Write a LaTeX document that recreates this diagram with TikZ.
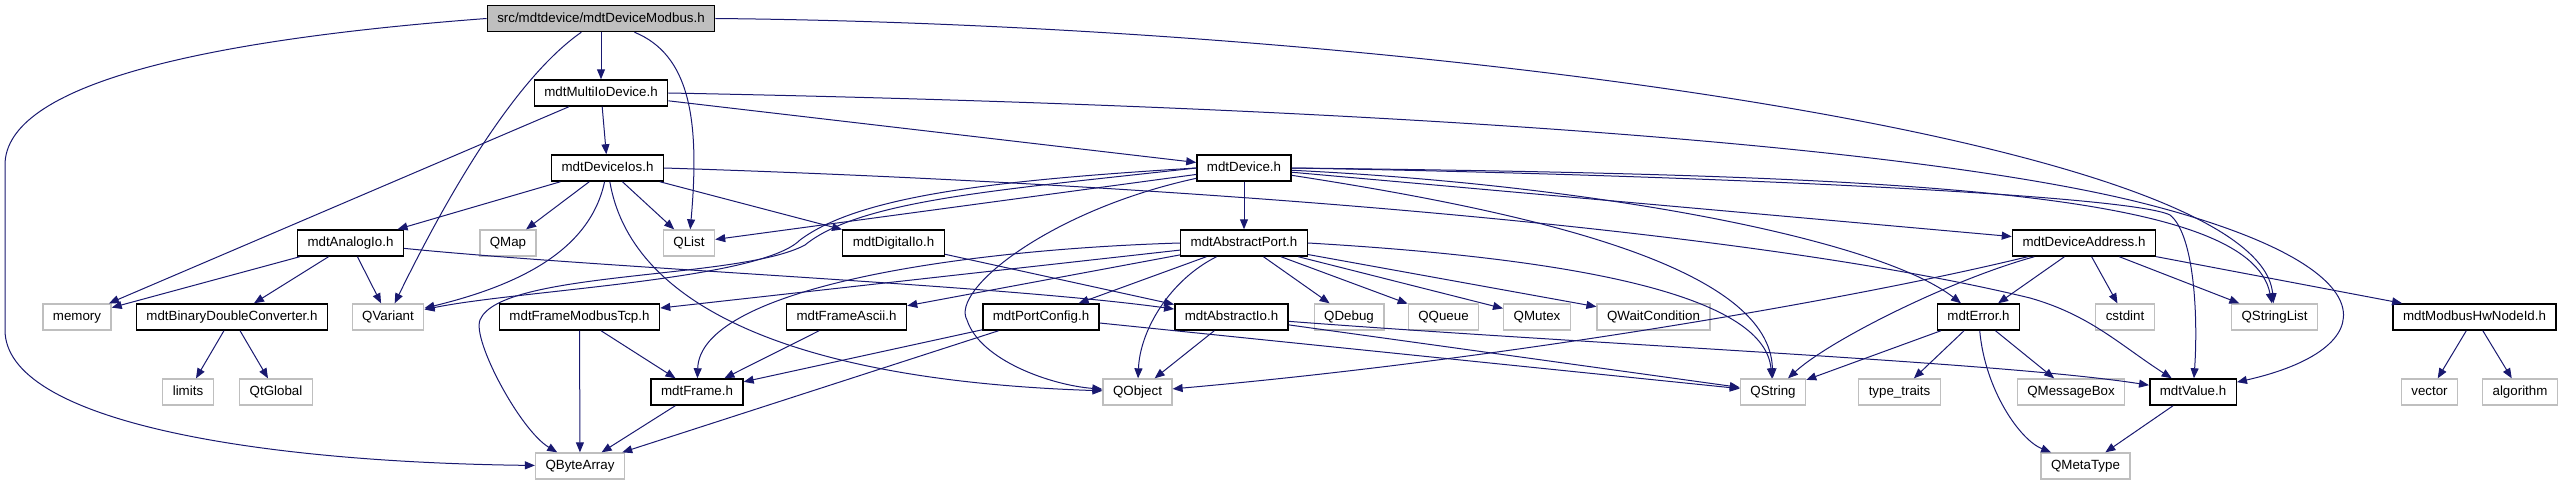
\documentclass[tikz,border=0pt]{standalone}
\usepackage{fontspec}
\setmainfont{Liberation Sans}
\usepackage{tikz}
\usetikzlibrary{arrows.meta}
\usepackage{xcolor}
\definecolor{edgeblue}{HTML}{191970}
\definecolor{extgray}{HTML}{BFBFBF}
\definecolor{rootfill}{HTML}{BFBFBF}

\begin{document}
\begin{tikzpicture}[
  x=0.75pt, y=-0.75pt,
  every node/.style={font=\fontsize{10}{12}\selectfont, text height=7.5pt, text depth=2.2pt},
  docbox/.style={draw=black, fill=white, line width=1.1pt, inner xsep=7.5pt,
                 inner ysep=0pt, minimum height=19.5pt},
  extbox/.style={draw=extgray, fill=white, line width=1pt, inner xsep=7.5pt,
                 inner ysep=0pt, minimum height=19.5pt},
  rootbox/.style={docbox, fill=rootfill},
  incl/.style={draw=edgeblue, line width=0.75pt, -{Triangle[length=7.5pt,width=6pt]}},
]
  \useasboundingbox (0,0) rectangle (2563,485);

  \node[rootbox] (root) at (601,18.5) {src/mdtdevice/mdtDeviceModbus.h};
  \node[docbox] (multi) at (601,93) {mdtMultiIoDevice.h};
  \node[docbox] (ios) at (607.5,168) {mdtDeviceIos.h};
  \node[docbox] (dev) at (1244,168) {mdtDevice.h};
  \node[docbox] (analog) at (350.5,243) {mdtAnalogIo.h};
  \node[extbox] (qmap) at (508,243) {QMap};
  \node[extbox] (qlist) at (689,243) {QList};
  \node[docbox] (digital) at (893.5,243) {mdtDigitalIo.h};
  \node[docbox] (aport) at (1244,243) {mdtAbstractPort.h};
  \node[docbox] (daddr) at (2084,243) {mdtDeviceAddress.h};
  \node[extbox] (memory) at (77,317) {memory};
  \node[docbox] (bdc) at (232,317) {mdtBinaryDoubleConverter.h};
  \node[extbox] (qvariant) at (388,317) {QVariant};
  \node[docbox] (ftcp) at (579.5,317) {mdtFrameModbusTcp.h};
  \node[docbox] (fascii) at (846.5,317) {mdtFrameAscii.h};
  \node[docbox] (pconfig) at (1041,317) {mdtPortConfig.h};
  \node[docbox] (aio) at (1231.5,317) {mdtAbstractIo.h};
  \node[extbox] (qdebug) at (1349,317) {QDebug};
  \node[extbox] (qqueue) at (1443.5,317) {QQueue};
  \node[extbox] (qmutex) at (1537,317) {QMutex};
  \node[extbox] (qwait) at (1653.5,317) {QWaitCondition};
  \node[docbox] (merror) at (1978.5,317) {mdtError.h};
  \node[extbox] (cstdint) at (2125,317) {cstdint};
  \node[extbox] (qstrlist) at (2274.5,317) {QStringList};
  \node[docbox] (hwnode) at (2474.5,317) {mdtModbusHwNodeId.h};
  \node[extbox] (limits) at (188,392) {limits};
  \node[extbox] (qtglobal) at (276,392) {QtGlobal};
  \node[docbox] (frame) at (697,392) {mdtFrame.h};
  \node[extbox] (qobject) at (1137.5,392) {QObject};
  \node[extbox] (qstring) at (1773,392) {QString};
  \node[extbox] (traits) at (1899.5,392) {type\_traits};
  \node[extbox] (qmsgbox) at (2071,392) {QMessageBox};
  \node[docbox] (value) at (2193,392) {mdtValue.h};
  \node[extbox] (vector) at (2429.5,392) {vector};
  \node[extbox] (algorithm) at (2520,392) {algorithm};
  \node[extbox] (qbytearray) at (580,466) {QByteArray};
  \node[extbox] (qmetatype) at (2085.5,466) {QMetaType};

  \draw[incl] (root) -- (multi);
  \draw[incl] (root) .. controls (520,75) and (455,180) .. (qvariant);
  \draw[incl] (root) .. controls (690,55) and (700,120) .. (qlist);
  \draw[incl] (root.west) .. controls (200,40) and (5,85) .. (5,165) -- (5,330)
    .. controls (5,420) and (250,462) .. (qbytearray);
  \draw[incl] (root.east) .. controls (1400,25) and (2260,140) .. (qstrlist);

  \draw[incl] (multi) -- (memory);
  \draw[incl] (multi) -- (ios);
  \draw[incl] (multi) -- (dev);
  \draw[incl] (multi.east) .. controls (1300,105) and (1900,140) .. (2150,205)
    .. controls (2400,270) and (2380,350) .. (value);

  \draw[incl] (ios) -- (analog);
  \draw[incl] (ios) -- (qmap);
  \draw[incl] (ios) .. controls (590,250) and (520,285) .. (qvariant);
  \draw[incl] (ios) .. controls (630,300) and (780,380) .. (qobject);
  \draw[incl] (ios) -- (qlist);
  \draw[incl] (ios) -- (digital);
  \draw[incl] (ios.east) .. controls (1200,185) and (1750,230) .. (2030,298)
    .. controls (2090,315) and (2120,345) .. (value);

  \draw[incl] (dev) -- (qlist);
  \draw[incl] (dev.west) .. controls (1000,180) and (860,195) .. (800,240)
    .. controls (760,280) and (520,290) .. (qvariant);
  \draw[incl] (dev.west) .. controls (1000,190) and (860,200) .. (805,245)
    .. controls (740,280) and (500,270) .. (480,320)
    .. controls (472,340) and (520,430) .. (qbytearray);
  \draw[incl] (dev) .. controls (1050,210) and (950,290) .. (967,320)
    .. controls (980,360) and (1050,385) .. (qobject);
  \draw[incl] (dev) -- (aport);
  \draw[incl] (dev) .. controls (1550,215) and (1770,270) .. (qstring);
  \draw[incl] (dev) .. controls (1600,185) and (1880,240) .. (merror);
  \draw[incl] (dev) -- (daddr);
  \draw[incl] (dev.east) .. controls (1900,175) and (2250,190) .. (qstrlist);
  \draw[incl] (dev.east) .. controls (1700,175) and (2130,195) .. (2170,215)
    .. controls (2195,235) and (2198,320) .. (value);

  \draw[incl] (analog) -- (memory);
  \draw[incl] (analog) -- (bdc);
  \draw[incl] (analog) -- (qvariant);
  \draw[incl] (analog) .. controls (600,268) and (1000,285) .. (aio);

  \draw[incl] (bdc) -- (limits);
  \draw[incl] (bdc) -- (qtglobal);
  \draw[incl] (digital) -- (aio);

  \draw[incl] (aport) -- (ftcp);
  \draw[incl] (aport) -- (fascii);
  \draw[incl] (aport) -- (pconfig);
  \draw[incl] (aport.west) .. controls (950,250) and (700,290) .. (frame);
  \draw[incl] (aport) .. controls (1170,280) and (1140,330) .. (qobject);
  \draw[incl] (aport) -- (qdebug);
  \draw[incl] (aport) -- (qqueue);
  \draw[incl] (aport) -- (qmutex);
  \draw[incl] (aport) -- (qwait);
  \draw[incl] (aport.east) .. controls (1600,260) and (1765,300) .. (qstring);

  \draw[incl] (ftcp) -- (frame);
  \draw[incl] (ftcp) -- (qbytearray);
  \draw[incl] (fascii) -- (frame);
  \draw[incl] (pconfig) -- (frame);
  \draw[incl] (pconfig) -- (qbytearray);
  \draw[incl] (pconfig) -- (qstring);
  \draw[incl] (aio) -- (qobject);
  \draw[incl] (aio) -- (qstring);
  \draw[incl] (aio) .. controls (1600,345) and (2000,362) .. (value);
  \draw[incl] (frame) -- (qbytearray);

  \draw[incl] (daddr) .. controls (1850,300) and (1500,360) .. (qobject);
  \draw[incl] (daddr) .. controls (1950,280) and (1830,340) .. (qstring);
  \draw[incl] (daddr) -- (merror);
  \draw[incl] (daddr) -- (cstdint);
  \draw[incl] (daddr) -- (qstrlist);
  \draw[incl] (daddr) -- (hwnode);

  \draw[incl] (merror) -- (qstring);
  \draw[incl] (merror) -- (traits);
  \draw[incl] (merror) -- (qmsgbox);
  \draw[incl] (merror) .. controls (1985,390) and (2020,440) .. (qmetatype);
  \draw[incl] (value) -- (qmetatype);
  \draw[incl] (hwnode) -- (vector);
  \draw[incl] (hwnode) -- (algorithm);
\end{tikzpicture}
\end{document}
